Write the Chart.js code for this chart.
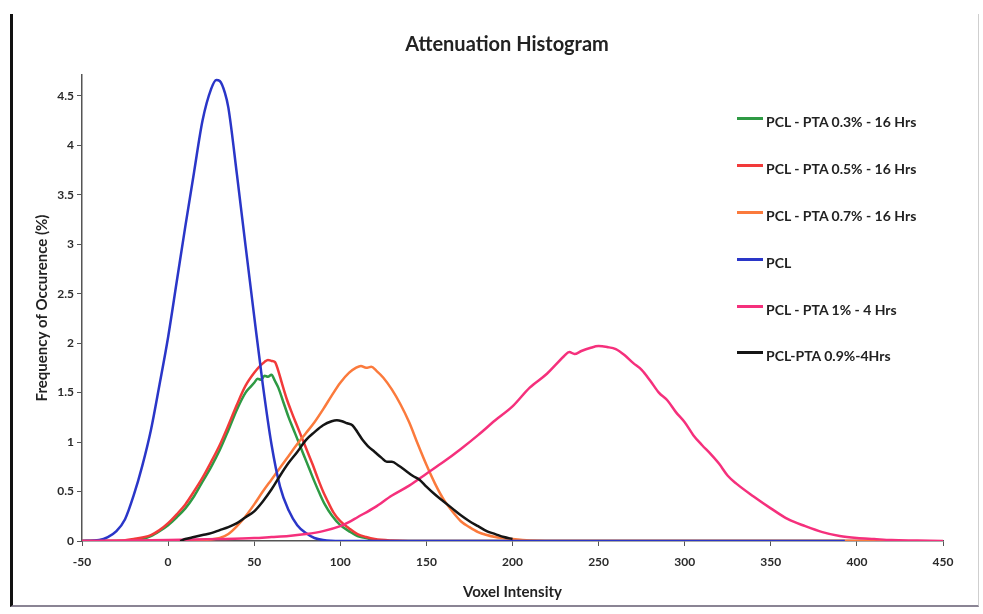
<!DOCTYPE html>
<html>
<head>
<meta charset="utf-8">
<script src="https://cdn.jsdelivr.net/npm/chart.js@4/dist/chart.umd.min.js"></script>
<style>
html,body{margin:0;padding:0;background:#fff;}
#wrap{position:relative;width:983px;height:614px;overflow:hidden;background:#fff;}
#c{position:absolute;left:0;top:0;}
#title{position:absolute;left:307px;width:400px;top:31px;text-align:center;font:bold 20px Lato, "Open Sans", sans-serif;color:#222;}
#legend{position:absolute;left:0;top:0;}
.item{position:absolute;left:737px;height:20px;display:flex;align-items:center;white-space:nowrap;font:bold 14px Lato, "Open Sans", sans-serif;color:#222;}
.swatch{display:inline-block;width:26px;height:3px;margin-right:3px;position:relative;top:-3px;}
#frame{position:absolute;left:10px;top:14px;width:965px;height:591px;border-left:3px solid #111;border-bottom:2px solid #8a8494;border-right:1px solid #cfcfcf;pointer-events:none;}
</style>
</head>
<body>
<div id="wrap">
<canvas id="c" width="983" height="614"></canvas>
<div id="title">Attenuation Histogram</div>
<div id="legend"></div>
<div id="frame"></div>
</div>
<script>
// ---- tick labels ----
const xTickValues = [-50, 0, 50, 100, 150, 200, 250, 300, 350, 400, 450];
const xTickLabels = ['-50', '0', '50', '100', '150', '200', '250', '300', '350', '400', '450'];
const yTickValues = [0, 0.5, 1, 1.5, 2, 2.5, 3, 3.5, 4, 4.5];
const yTickLabels = ['0', '0.5', '1', '1.5', '2', '2.5', '3', '3.5', '4', '4.5'];

// ---- series names & colours ----
const seriesNames = ['PCL - PTA 0.3% - 16 Hrs', 'PCL - PTA 0.5% - 16 Hrs', 'PCL - PTA 0.7% - 16 Hrs', 'PCL', 'PCL - PTA 1% - 4 Hrs', 'PCL-PTA 0.9%-4Hrs'];
const seriesColors = ['#2e9a44', '#f23a3a', '#fb7a3c', '#2a36c8', '#f5307c', '#151515'];

// ---- PCL - PTA 0.3% - 16 Hrs (green) ----
const pta03X = [-50, -25, -20, -15, -10, -5, 0, 5, 10, 15, 20, 25, 30, 35, 40, 45, 48, 50, 52, 54, 56, 58, 60, 62, 64, 67, 70, 73, 76, 79, 82, 85, 88, 91, 95, 100, 105, 110, 115, 120, 130, 420];
const pta03Y = [0, 0, 0.01, 0.02, 0.05, 0.1, 0.16, 0.24, 0.33, 0.45, 0.6, 0.75, 0.92, 1.12, 1.33, 1.5, 1.56, 1.6, 1.64, 1.63, 1.67, 1.66, 1.68, 1.62, 1.55, 1.4, 1.25, 1.12, 0.99, 0.86, 0.73, 0.6, 0.48, 0.37, 0.26, 0.16, 0.1, 0.05, 0.03, 0.01, 0, 0];

// ---- PCL - PTA 0.5% - 16 Hrs (red) ----
const pta05X = [-50, -30, -20, -10, -5, 0, 5, 10, 15, 20, 25, 30, 35, 40, 45, 50, 54, 56, 58, 60, 62, 64, 66, 69, 72, 75, 78, 81, 84, 87, 90, 93, 96, 100, 105, 110, 115, 120, 130, 140, 420];
const pta05Y = [0, 0, 0.02, 0.06, 0.11, 0.18, 0.27, 0.37, 0.5, 0.64, 0.8, 0.97, 1.17, 1.38, 1.57, 1.7, 1.78, 1.81, 1.83, 1.82, 1.81, 1.72, 1.6, 1.43, 1.29, 1.16, 1.03, 0.9, 0.77, 0.63, 0.5, 0.39, 0.29, 0.2, 0.13, 0.07, 0.04, 0.02, 0.005, 0, 0];

// ---- PCL - PTA 0.7% - 16 Hrs (orange) ----
const pta07X = [-50, 0, 20, 30, 35, 40, 45, 50, 55, 60, 65, 70, 75, 80, 85, 90, 95, 100, 105, 109, 112, 115, 118, 121, 125, 130, 135, 140, 145, 150, 155, 160, 165, 170, 175, 180, 185, 190, 200, 210, 220, 420];
const pta07Y = [0, 0, 0.01, 0.03, 0.07, 0.15, 0.25, 0.37, 0.5, 0.62, 0.74, 0.86, 0.98, 1.09, 1.2, 1.33, 1.47, 1.6, 1.7, 1.75, 1.77, 1.75, 1.76, 1.72, 1.65, 1.53, 1.38, 1.2, 0.98, 0.77, 0.58, 0.42, 0.3, 0.2, 0.14, 0.09, 0.06, 0.04, 0.02, 0.005, 0, 0];

// ---- PCL (blue) ----
const pclX = [-50, -40, -35, -30, -25, -20, -15, -10, -5, 0, 5, 10, 15, 20, 25, 28, 30, 33, 35, 40, 45, 50, 55, 60, 65, 70, 75, 80, 85, 90, 100, 393];
const pclY = [0, 0.01, 0.04, 0.1, 0.22, 0.46, 0.76, 1.12, 1.58, 2.06, 2.62, 3.18, 3.72, 4.25, 4.57, 4.66, 4.65, 4.53, 4.38, 3.7, 2.98, 2.27, 1.58, 0.98, 0.55, 0.31, 0.16, 0.08, 0.03, 0.01, 0, 0];

// ---- PCL - PTA 1% - 4 Hrs (pink) ----
const pta1X = [-50, -20, 0, 30, 50, 60, 70, 80, 90, 100, 105, 110, 120, 130, 140, 150, 160, 170, 180, 190, 200, 210, 220, 225, 230, 233, 236, 240, 245, 250, 255, 260, 265, 270, 275, 280, 285, 290, 295, 300, 305, 310, 315, 320, 325, 330, 340, 350, 360, 370, 380, 390, 400, 410, 420, 435, 450];
const pta1Y = [0, 0.005, 0.01, 0.02, 0.03, 0.04, 0.05, 0.07, 0.1, 0.15, 0.19, 0.24, 0.34, 0.46, 0.56, 0.68, 0.8, 0.93, 1.07, 1.22, 1.36, 1.55, 1.69, 1.78, 1.87, 1.91, 1.89, 1.92, 1.95, 1.97, 1.96, 1.94, 1.88, 1.8, 1.73, 1.62, 1.5, 1.42, 1.3, 1.2, 1.07, 0.97, 0.88, 0.78, 0.66, 0.58, 0.45, 0.33, 0.22, 0.15, 0.09, 0.05, 0.03, 0.02, 0.01, 0.005, 0];

// ---- PCL-PTA 0.9%-4Hrs (black) ----
const pta09X = [7, 10, 15, 20, 25, 30, 35, 40, 45, 50, 55, 60, 65, 70, 75, 80, 85, 90, 95, 98, 101, 104, 107, 110, 113, 116, 120, 124, 127, 130, 134, 138, 142, 146, 150, 155, 160, 165, 170, 175, 180, 185, 190, 195, 200];
const pta09Y = [0, 0.02, 0.04, 0.06, 0.08, 0.11, 0.14, 0.18, 0.24, 0.3, 0.4, 0.52, 0.66, 0.79, 0.9, 1.02, 1.1, 1.17, 1.21, 1.22, 1.21, 1.19, 1.17, 1.1, 1.02, 0.96, 0.9, 0.84, 0.8, 0.8, 0.76, 0.71, 0.66, 0.62, 0.55, 0.47, 0.4, 0.33, 0.26, 0.2, 0.15, 0.1, 0.07, 0.04, 0.02];

const seriesX = [pta03X, pta05X, pta07X, pclX, pta1X, pta09X];
const seriesY = [pta03Y, pta05Y, pta07Y, pclY, pta1Y, pta09Y];

const datasets = seriesNames.map((name, i) => ({
  label: name,
  data: seriesX[i].map((x, j) => ({x: x, y: seriesY[i][j]})),
  borderColor: seriesColors[i],
  backgroundColor: seriesColors[i],
  borderWidth: 2.5,
  pointRadius: 0,
  fill: false,
  cubicInterpolationMode: 'monotone',
  order: seriesNames.length - 1 - i
}));

const tickFont = {family: 'Lato, "Open Sans", sans-serif', size: 12, weight: 'bold'};
const axisTitleFont = {family: 'Lato, "Open Sans", sans-serif', size: 15, weight: 'bold'};

new Chart(document.getElementById('c'), {
  type: 'line',
  data: {datasets: datasets},
  options: {
    responsive: false,
    animation: false,
    layout: {padding: {left: 0, right: 40, top: 75, bottom: 0}},
    plugins: {legend: {display: false}, title: {display: false}, tooltip: {enabled: false}},
    scales: {
      x: {
        type: 'linear', min: -50, max: 450,
        afterFit(s) { s.height = 73; },
        afterBuildTicks(s) { s.ticks = xTickValues.map(v => ({value: v})); },
        ticks: {font: tickFont, color: '#2a2a2a', padding: 9, maxRotation: 0, autoSkip: false,
          callback: (v, i) => xTickLabels[i]},
        grid: {drawOnChartArea: false, drawTicks: true, tickLength: 5, color: '#555'},
        border: {display: true, color: '#555', width: 1.5},
        title: {display: true, text: 'Voxel Intensity', font: axisTitleFont, color: '#222', padding: {top: 0, bottom: 13}}
      },
      y: {
        type: 'linear', min: 0, max: 4.71,
        afterFit(s) { s.width = 82; },
        afterBuildTicks(s) { s.ticks = yTickValues.map(v => ({value: v})); },
        ticks: {font: tickFont, color: '#2a2a2a', padding: 3, autoSkip: false,
          callback: (v, i) => yTickLabels[i]},
        grid: {drawOnChartArea: false, drawTicks: true, tickLength: 5, color: '#555'},
        border: {display: true, color: '#555', width: 1.5},
        title: {display: true, text: 'Frequency of Occurence (%)', font: axisTitleFont, color: '#222', padding: {top: 33, bottom: 0}}
      }
    }
  }
});

// HTML legend built from the series names/colours
const legendTops = [111, 158, 205, 252, 299, 345];
const lg = document.getElementById('legend');
seriesNames.forEach((name, i) => {
  const d = document.createElement('div');
  d.className = 'item';
  d.style.top = legendTops[i] + 'px';
  const sw = document.createElement('span');
  sw.className = 'swatch';
  sw.style.background = seriesColors[i];
  d.appendChild(sw);
  d.appendChild(document.createTextNode(name));
  lg.appendChild(d);
});
</script>
</body>
</html>
